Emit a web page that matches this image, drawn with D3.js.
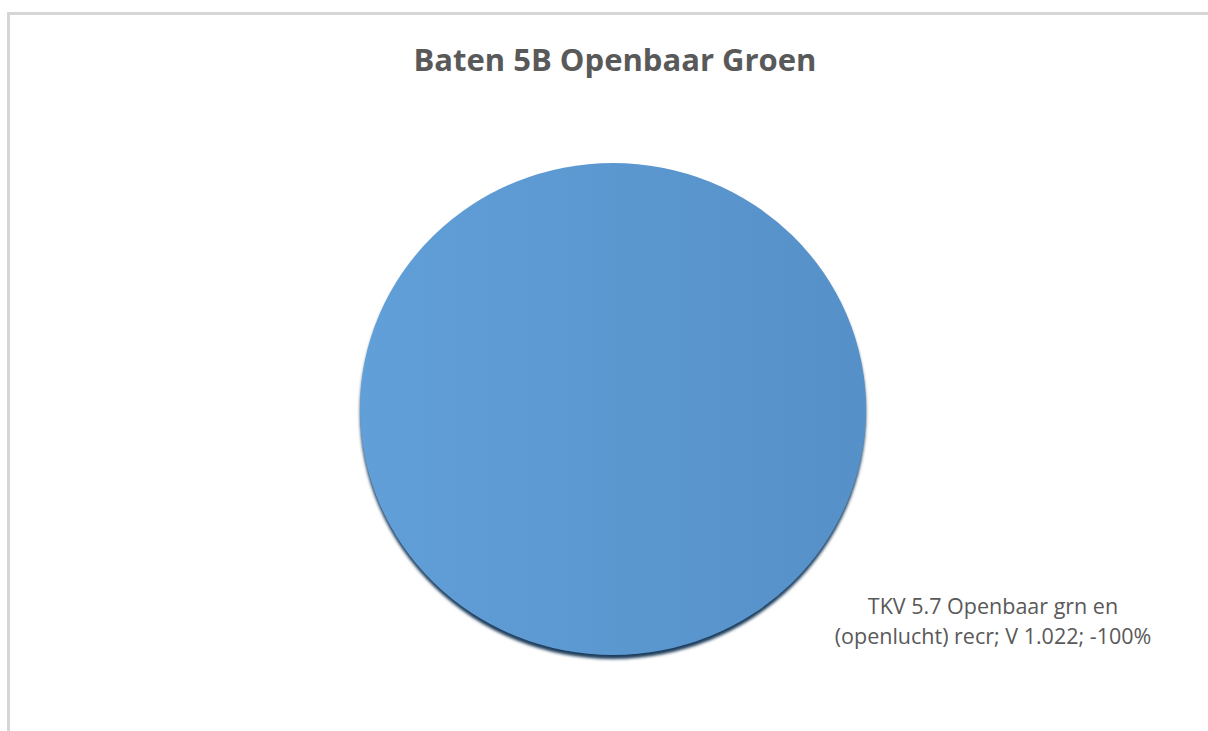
<!DOCTYPE html>
<html>
<head>
<meta charset="utf-8">
<script src="https://cdn.jsdelivr.net/npm/d3@7/dist/d3.min.js"></script>
<style>
  html, body { margin: 0; padding: 0; background: #fff; }
  svg { display: block; }
</style>
</head>
<body>
<svg id="chart" width="1208" height="731"></svg>
<script>
// Chart content
const chartTitle = "Baten 5B Openbaar Groen";
const categories = ["TKV 5.7 Openbaar grn en (openlucht) recr"];
const values = [1.022];
const percentLabels = ["-100%"];
const labelLines = [["TKV 5.7 Openbaar grn en", "(openlucht) recr; V 1.022; -100%"]];

const svg = d3.select("#chart");
const W = 1208, H = 731;

// Frame of the chart area (top and left edges visible)
svg.append("rect").attr("x", 0).attr("y", 0).attr("width", W).attr("height", H).attr("fill", "#fff");
svg.append("line").attr("x1", 7).attr("x2", W).attr("y1", 13.5).attr("y2", 13.5)
  .attr("stroke", "#d6d6d6").attr("stroke-width", 3);
svg.append("line").attr("x1", 8.5).attr("x2", 8.5).attr("y1", 12).attr("y2", H)
  .attr("stroke", "#d6d6d6").attr("stroke-width", 3);

// Title
svg.append("text")
  .attr("x", 615).attr("y", 71)
  .attr("text-anchor", "middle")
  .attr("font-family", "'Open Sans', 'Liberation Sans', sans-serif")
  .attr("font-weight", "bold")
  .attr("font-size", 31)
  .attr("fill", "#595959")
  .text(chartTitle);

// Pie
const defs = svg.append("defs");
const grad = defs.append("linearGradient").attr("id", "sliceFill")
  .attr("x1", "0%").attr("y1", "0%").attr("x2", "100%").attr("y2", "0%");
grad.append("stop").attr("offset", "0%").attr("stop-color", "#619fd8");
grad.append("stop").attr("offset", "100%").attr("stop-color", "#5690c8");

const shadowFilter = defs.append("filter").attr("id", "shadowBlur")
  .attr("x", "-10%").attr("y", "-10%").attr("width", "120%").attr("height", "120%");
shadowFilter.append("feGaussianBlur").attr("stdDeviation", 1.5);

const cx = 613, cy = 409, rx = 253, ry = 246;
const pie = d3.pie().sort(null).value(d => d);
const arc = d3.arc().innerRadius(0).outerRadius(rx);
const arcs = pie(values);

const g = svg.append("g")
  .attr("transform", `translate(${cx},${cy}) scale(1,${ry / rx})`);

// soft dark rim under the slice
g.selectAll("path.shadow").data(arcs).join("path")
  .attr("class", "shadow")
  .attr("d", arc)
  .attr("transform", "translate(0,4)")
  .attr("fill", "#1f3d5c")
  .attr("filter", "url(#shadowBlur)");

g.selectAll("path.slice").data(arcs).join("path")
  .attr("class", "slice")
  .attr("d", arc)
  .attr("fill", "url(#sliceFill)");

// Data label
const lab = svg.append("text")
  .attr("text-anchor", "middle")
  .attr("font-family", "'Open Sans', 'Liberation Sans', sans-serif")
  .attr("font-size", 21.5)
  .attr("fill", "#595959");
labelLines[0].forEach((line, i) => {
  lab.append("tspan").attr("x", 993).attr("y", 614 + i * 30).text(line);
});
</script>
</body>
</html>
